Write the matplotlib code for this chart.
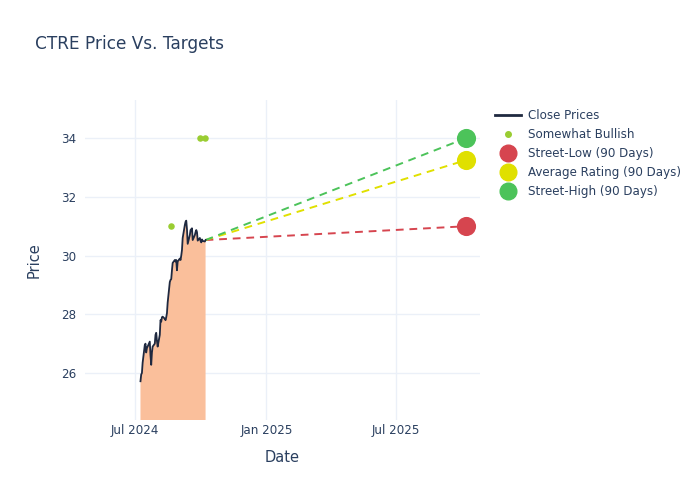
import numpy as np
import pandas as pd
import matplotlib
matplotlib.use("Agg")
import matplotlib.pyplot as plt
import matplotlib.dates as mdates
from matplotlib.lines import Line2D

# close prices, one per business day
close_dates = pd.bdate_range("2024-07-09", "2024-10-08")
close_prices = [25.72, 25.95, 26.0, 26.35, 26.95, 27.0, 26.7, 26.85, 26.9, 27.07,
                26.6, 26.28, 26.7, 26.9, 27.0, 27.3, 27.37, 27.1, 26.9, 27.3,
                27.8, 27.75, 27.9, 27.92, 27.85, 27.8, 27.9, 28.04, 28.4, 29.1,
                29.17, 29.2, 29.5, 29.75, 29.85, 29.8, 29.85, 29.5, 29.8, 29.9,
                29.85, 30.0, 30.19, 30.6, 31.04, 31.15, 31.19, 30.9, 30.4, 30.7,
                30.87, 30.9, 30.93, 30.53, 30.7, 30.8, 30.87, 30.8, 30.51, 30.6,
                30.5, 30.45, 30.55, 30.5, 30.48, 30.53]

# analyst ratings
bullish_dates = pd.to_datetime(["2024-08-21", "2024-09-30", "2024-10-07"])
bullish_prices = [31.0, 34.0, 34.0]

# 90 day targets
target_date = pd.Timestamp("2025-10-07")
target_names = ["Street-Low (90 Days)", "Average Rating (90 Days)", "Street-High (90 Days)"]
target_values = [31.0, 33.25, 34.0]
target_colors = ["#d6454f", "#e0e000", "#4cc35a"]

text_color = "#2a3f5f"
grid_color = "#ebf0f8"

fig = plt.figure(figsize=(7, 5), dpi=100)
ax = fig.add_axes([0.121, 0.16, 0.565, 0.64])

ax.fill_between(close_dates, close_prices, 0, color="#fabf9b", lw=0, zorder=1)
ax.plot(close_dates, close_prices, color="#1f2940", lw=1.3, zorder=3)

last_date = close_dates[-1]
last_price = close_prices[-1]
for val, col in zip(target_values, target_colors):
    ax.plot([last_date, target_date], [last_price, val], ls=(0, (4, 3)), color=col, lw=1.4, zorder=2)
    ax.scatter([target_date], [val], s=190, color=col, zorder=4, lw=0)

ax.scatter(bullish_dates, bullish_prices, s=22, color="#9acd32", zorder=4, lw=0)

ax.set_xlim(pd.Timestamp("2024-04-22"), pd.Timestamp("2025-10-27"))
ax.set_ylim(24.4, 35.3)
ax.set_yticks([26, 28, 30, 32, 34])
ax.xaxis.set_major_locator(mdates.MonthLocator(bymonth=[1, 7]))
ax.xaxis.set_major_formatter(mdates.DateFormatter("%b %Y"))

ax.grid(True, color=grid_color, lw=1)
ax.set_axisbelow(True)
for s in ax.spines.values():
    s.set_visible(False)
ax.tick_params(length=0, colors=text_color, labelsize=8.6)
ax.tick_params(axis="x", pad=3)
ax.tick_params(axis="y", pad=6)
ax.set_xlabel("Date", color=text_color, fontsize=10.5, labelpad=9)
ax.set_ylabel("Price", color=text_color, fontsize=10.5, labelpad=14)

fig.text(0.05, 0.912, "CTRE Price Vs. Targets", color=text_color, fontsize=12.2, va="center")

handles = [Line2D([], [], color="#1f2940", lw=2),
           Line2D([], [], ls="", marker="o", color="#9acd32", ms=4)]
labels = ["Close Prices", "Somewhat Bullish"]
for name, col in zip(target_names, target_colors):
    handles.append(Line2D([], [], ls="", marker="o", color=col, ms=12))
    labels.append(name)
leg = fig.legend(handles, labels, loc="upper left", bbox_to_anchor=(0.698, 0.794),
                 frameon=False, fontsize=8.6, labelspacing=0.5, handlelength=2.2,
                 handletextpad=0.6, borderpad=0)
for t in leg.get_texts():
    t.set_color(text_color)

fig.savefig("out.png", dpi=100)
